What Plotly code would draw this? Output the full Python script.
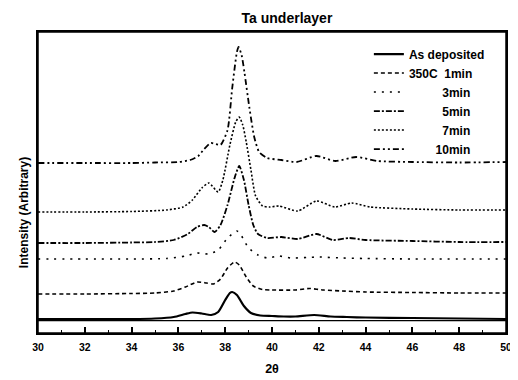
import plotly.graph_objects as go

FONT = "Liberation Sans, Arial, sans-serif"

# ---- data (arbitrary intensity units, curves already offset) ----
x_as_dep = [30, 32, 34, 35, 35.8, 36.3, 36.6, 37.0, 37.4, 37.7, 38.0, 38.2, 38.3, 38.5, 38.8, 39.1, 39.5, 40, 40.5, 41, 41.8, 42.5, 43.2, 44, 46, 48, 50]
y_as_dep = [14, 14, 14, 14.5, 16, 19, 20.5, 19.5, 18, 21, 33, 40, 41, 38, 27, 20, 17.5, 17, 16.5, 16.5, 18, 16.5, 16, 15.5, 15, 14.5, 14]

x_1min = [30, 32, 34, 35, 35.8, 36.3, 36.8, 37.2, 37.5, 37.8, 38.1, 38.4, 38.6, 38.9, 39.2, 39.6, 40, 41, 41.6, 42.2, 43, 44, 46, 48, 50]
y_1min = [39, 39, 39.5, 40, 42, 46, 51, 50, 49, 54, 65, 71, 68, 56, 47, 43.5, 43, 43, 44.5, 43, 42, 41, 40.5, 40, 40]

x_3min = [30, 32, 34, 35.5, 36.3, 36.8, 37.3, 37.7, 38.1, 38.5, 38.7, 39.0, 39.4, 39.8, 40.3, 40.8, 41.5, 42, 43, 44, 46, 50]
y_3min = [74, 74, 74, 74.5, 77, 80, 79, 83, 95, 102, 97, 85, 78, 75, 77, 75, 75.5, 76, 75, 74.5, 74, 74]

x_5min = [30, 32, 34, 35, 35.8, 36.4, 36.8, 37.1, 37.3, 37.55, 37.8, 38.1, 38.4, 38.6, 38.8, 39.0, 39.2, 39.4, 39.8, 40.4, 41.1, 41.9, 42.6, 43.3, 44, 46, 48, 50]
y_5min = [90, 90, 90.5, 91, 93, 99, 106, 108, 106, 101, 108, 128, 155, 167, 153, 128, 108, 99, 95, 96, 94, 99, 93, 95, 93, 92, 91, 91]

x_7min = [30, 32, 34, 35.5, 36.2, 36.6, 37.0, 37.3, 37.7, 37.9, 38.2, 38.45, 38.6, 38.75, 38.9, 39.1, 39.3, 39.6, 39.9, 40.3, 41.1, 41.9, 42.7, 43.4, 44.2, 46, 48, 50]
y_7min = [121, 121, 121.5, 123, 126, 133, 145, 150, 141, 153, 188, 211, 216, 208, 191, 163, 137, 127, 126, 127, 122, 132, 126, 130, 126, 124, 123, 123]

x_10min = [30, 32, 34, 35, 36, 36.5, 36.85, 37.1, 37.38, 37.6, 37.8, 38.1, 38.3, 38.5, 38.57, 38.7, 38.82, 39.03, 39.24, 39.45, 39.8, 40.4, 41.05, 41.9, 42.7, 43.6, 44.5, 46, 48, 50]
y_10min = [170, 170, 170, 170.5, 171, 173, 177, 184, 190, 189, 188, 203, 245, 281, 286, 278, 261, 226, 196, 181, 175, 173, 171, 177, 172, 176, 172, 171, 170.5, 171]

baseline_level = 12.3

NB = "\u00a0"
series_names = ["As deposited", "350C" + NB + NB + "1min", NB * 10 + "3min", NB * 10 + "5min", NB * 10 + "7min", NB * 8 + "10min"]
series_x = [x_as_dep, x_1min, x_3min, x_5min, x_7min, x_10min]
series_y = [y_as_dep, y_1min, y_3min, y_5min, y_7min, y_10min]
series_dash = ["solid", "4px,3px", "2px,6px", "6px,2px,2px,2px", "2px,2px", "6px,3px,2px,3px,2px,3px"]
series_width = [2.2, 1.6, 1.6, 1.8, 1.6, 1.8]

x_tick_vals = [30, 32, 34, 36, 38, 40, 42, 44, 46, 48, 50]

fig = go.Figure()
for name, xs, ys, dash, w in zip(series_names, series_x, series_y, series_dash, series_width):
    fig.add_trace(go.Scatter(
        x=xs, y=ys, mode="lines", name=name,
        line=dict(color="black", dash=dash, width=w, shape="spline", smoothing=0.6),
    ))

fig.add_hline(y=baseline_level, line=dict(color="black", width=1.2))
fig.add_shape(type="rect", xref="paper", yref="paper", x0=0, y0=0, x1=1, y1=1,
              line=dict(color="black", width=1.5), layer="above")

# the page body has an 8px default margin, so the figure is 8px smaller
fig.update_layout(
    width=510, height=372,
    margin=dict(l=30, r=6, t=24, b=47),
    paper_bgcolor="white", plot_bgcolor="white",
    font=dict(family=FONT, color="black"),
    title=dict(text="<b>Ta underlayer</b>", x=0.547, xanchor="center", y=0.973, yanchor="middle",
               font=dict(size=14, family=FONT, color="black")),
    showlegend=True,
    legend=dict(x=0.707, xanchor="left", y=0.975, yanchor="top",
                bgcolor="rgba(0,0,0,0)", borderwidth=0,
                font=dict(size=12, family=FONT, color="black", weight="bold"),
                tracegroupgap=0, itemwidth=30),
    xaxis=dict(range=[30, 50], tickvals=x_tick_vals, ticktext=[str(v) for v in x_tick_vals],
               ticks="inside", ticklen=6, tickwidth=1.5, tickcolor="black",
               minor=dict(dtick=1, ticks="inside", ticklen=3, tickwidth=1.2, tickcolor="black"),
               showline=True, linecolor="black", linewidth=1.5, mirror=True,
               showgrid=False, zeroline=False, ticklabelstandoff=4,
               tickfont=dict(size=10.5, family=FONT, color="black", weight="bold"),
               title=dict(text="<b>2θ</b>", font=dict(size=12.5, family=FONT, color="black"), standoff=12)),
    yaxis=dict(range=[0, 301], showticklabels=False, ticks="",
               showline=True, linecolor="black", linewidth=1.8, mirror=True,
               showgrid=False, zeroline=False),
)

fig.add_annotation(text="<b>Intensity (Arbitrary)</b>", xref="paper", yref="paper",
                   x=-0.05, y=0.40, textangle=-90, showarrow=False,
                   font=dict(size=12, family=FONT, color="black"))

fig.write_html("out.html")
